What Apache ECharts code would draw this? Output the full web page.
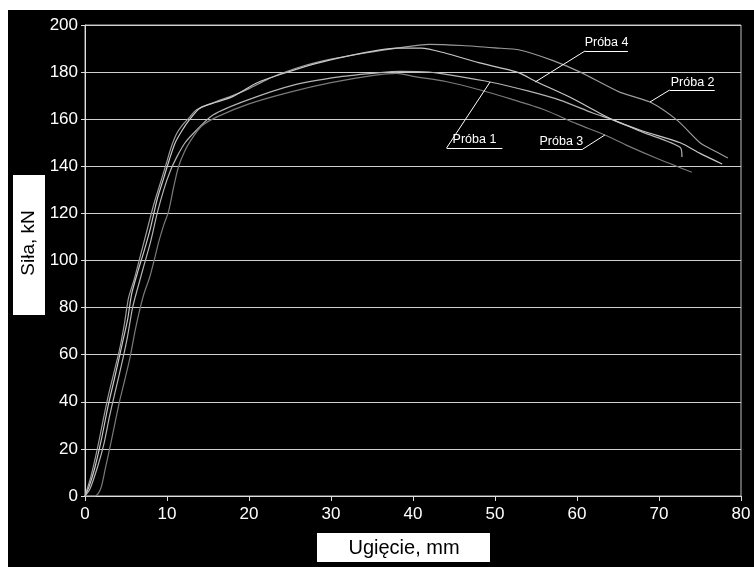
<!DOCTYPE html>
<html>
<head>
<meta charset="utf-8">
<script src="https://cdn.jsdelivr.net/npm/echarts@6/dist/echarts.min.js"></script>
<style>
  html, body { margin: 0; padding: 0; background: #fff; }
  #frame { position: absolute; left: 8px; top: 10px; width: 746px; height: 557px; background: #000; }
  #chart { position: absolute; left: 0; top: 0; width: 754px; height: 567px; }
</style>
</head>
<body>
<div id="frame"></div>
<div id="chart"></div>
<script>
const X_TICKS = [0, 10, 20, 30, 40, 50, 60, 70, 80];
const Y_TICKS = [0, 20, 40, 60, 80, 100, 120, 140, 160, 180, 200];

// [ugięcie mm, siła kN]
const proba1 = [[0,0],[0.6,3],[1.5,12],[2.3,22],[3,34],[3.8,46],[4.6,58],[5.2,68],[5.8,80],[6.4,88],[7.2,98],[8,108],[8.8,120],[9.6,130],[10.4,138],[11.2,144],[12.2,150],[13.5,155],[15.6,161.8],[19.7,168],[25.4,174.5],[31,178],[36,179.8],[38.4,180.3],[42,180],[45,178.5],[49.4,175.8],[54,172],[58,168],[62,162.5],[64.4,159.7],[68,154.5],[72.6,148],[72.8,144]];
const proba2 = [[0,0],[0.7,8],[1.5,20],[2.2,32],[2.8,42],[3.5,52],[4.2,62],[4.8,73],[5.3,84],[6,92],[6.6,100],[7.5,112],[8.4,124],[9.2,133],[9.9,141],[10.5,148],[11.2,154],[12,158],[12.8,161],[13.6,164],[16,167.5],[18,170],[20,173],[22,176.5],[24,179.5],[27,183],[30,185.5],[34,188],[38,190.2],[42,191.8],[46,191.3],[50,190.3],[53,189.4],[57,185],[60.4,180],[65.2,171.5],[68.9,167.3],[72.2,159.6],[75,150],[76.5,147],[78.4,143.5]];
const proba3 = [[0,0],[1.2,0],[1.6,1],[2,4],[2.5,12],[3,20],[3.6,30],[4.2,40],[4.9,50],[5.5,59],[6.1,70],[6.6,78],[7.2,86],[7.9,93],[8.5,101],[9,108],[9.6,115],[10.2,121],[10.8,131],[11.4,139.8],[12.1,146],[12.9,151],[14.2,157],[16.1,161],[20,166.5],[25,171.5],[30,175.5],[35,178.5],[38,179.5],[40,178.2],[44,176],[48.2,172.4],[52,168.5],[56,164],[60,158],[63.4,153.3],[66,149],[70,143],[74,137.5]];
const proba4 = [[0,0],[0.5,4],[1.2,12],[2,24],[2.8,38],[3.6,50],[4.5,64],[5.2,75],[5.7,86],[6.5,96],[7.2,104],[8,114],[8.8,126],[9.6,135],[10.3,143],[11,150],[11.8,155],[12.7,159.6],[14,164.7],[16,167.2],[18,169.6],[21,175.5],[24,179.2],[28,183.5],[32,186.8],[36,189.4],[38,190.2],[41,190.2],[44,188],[48,184],[52.7,180],[55,176],[59.1,169.4],[64.4,159.7],[68,155],[72.6,150],[75,145.5],[77.7,141]];

const SERIES = [
  { name: 'Próba 1', data: proba1, color: '#b4b4b4',
    leader: [[49.4,175.8],[44.1,147.8],[50.9,147.8]], text: [47.5,151.2] },
  { name: 'Próba 2', data: proba2, color: '#9c9c9c',
    leader: [[68.9,167.3],[71.3,172.4],[76.8,172.4]], text: [74.1,175.6] },
  { name: 'Próba 3', data: proba3, color: '#7a7a7a',
    leader: [[63.4,153.3],[60.7,147.3],[55.5,147.3]], text: [58.1,150.7] },
  { name: 'Próba 4', data: proba4, color: '#c8c8c8',
    leader: [[54.9,175.8],[61,189],[66.2,189]], text: [63.6,192.4] }
];

const FONT = '"Liberation Sans", Arial, sans-serif';
const chart = echarts.init(document.getElementById('chart'));

function leaderLines(pts) {
  const out = [];
  for (let i = 0; i < pts.length - 1; i++) {
    out.push([{ coord: pts[i] }, { coord: pts[i + 1] }]);
  }
  return out;
}

chart.setOption({
  backgroundColor: 'transparent',
  animation: false,
  grid: { left: 85, right: 13, top: 25, bottom: 71, show: true, borderColor: '#bdbdbd', borderWidth: 1 },
  xAxis: {
    type: 'value', min: X_TICKS[0], max: X_TICKS[X_TICKS.length - 1], interval: 10,
    axisLine: { show: true, lineStyle: { color: '#e0e0e0', width: 1 } },
    axisTick: { show: true, length: 5, lineStyle: { color: '#e0e0e0' } },
    axisLabel: { color: '#fff', fontSize: 17, fontFamily: FONT, margin: 10 },
    splitLine: { show: false }
  },
  yAxis: {
    type: 'value', min: Y_TICKS[0], max: Y_TICKS[Y_TICKS.length - 1], interval: 20,
    axisLine: { show: true, lineStyle: { color: '#e0e0e0', width: 1 } },
    axisTick: { show: true, length: 4, lineStyle: { color: '#e0e0e0' } },
    axisLabel: { color: '#fff', fontSize: 17, fontFamily: FONT, margin: 7 },
    splitLine: { show: true, lineStyle: { color: '#cfcfcf', width: 1 } }
  },
  graphic: [
    { type: 'rect', left: 13, top: 175, shape: { width: 32, height: 140 }, style: { fill: '#fff' } },
    { type: 'text', x: 29, y: 243, rotation: Math.PI / 2,
      style: { text: 'Siła, kN', fill: '#000', font: '19px ' + FONT, align: 'center', verticalAlign: 'middle' } },
    { type: 'rect', left: 317, top: 533, shape: { width: 173, height: 29 }, style: { fill: '#fff' } },
    { type: 'text', x: 404, y: 548,
      style: { text: 'Ugięcie, mm', fill: '#000', font: '20px ' + FONT, align: 'center', verticalAlign: 'middle' } }
  ],
  series: SERIES.map(s => ({
    name: s.name,
    type: 'line',
    data: s.data,
    showSymbol: false,
    symbol: 'none',
    smooth: 0.25,
    lineStyle: { color: s.color, width: 1.2 },
    z: 3,
    markLine: {
      silent: true, symbol: ['none', 'none'],
      lineStyle: { color: '#fff', width: 1, type: 'solid' },
      label: { show: false },
      data: leaderLines(s.leader)
    },
    markPoint: {
      silent: true, symbol: 'circle', symbolSize: 0,
      label: { show: true, position: 'inside', formatter: s.name, color: '#fff', fontSize: 12.5, fontFamily: FONT },
      data: [{ coord: s.text }]
    }
  }))
});
</script>
</body>
</html>
